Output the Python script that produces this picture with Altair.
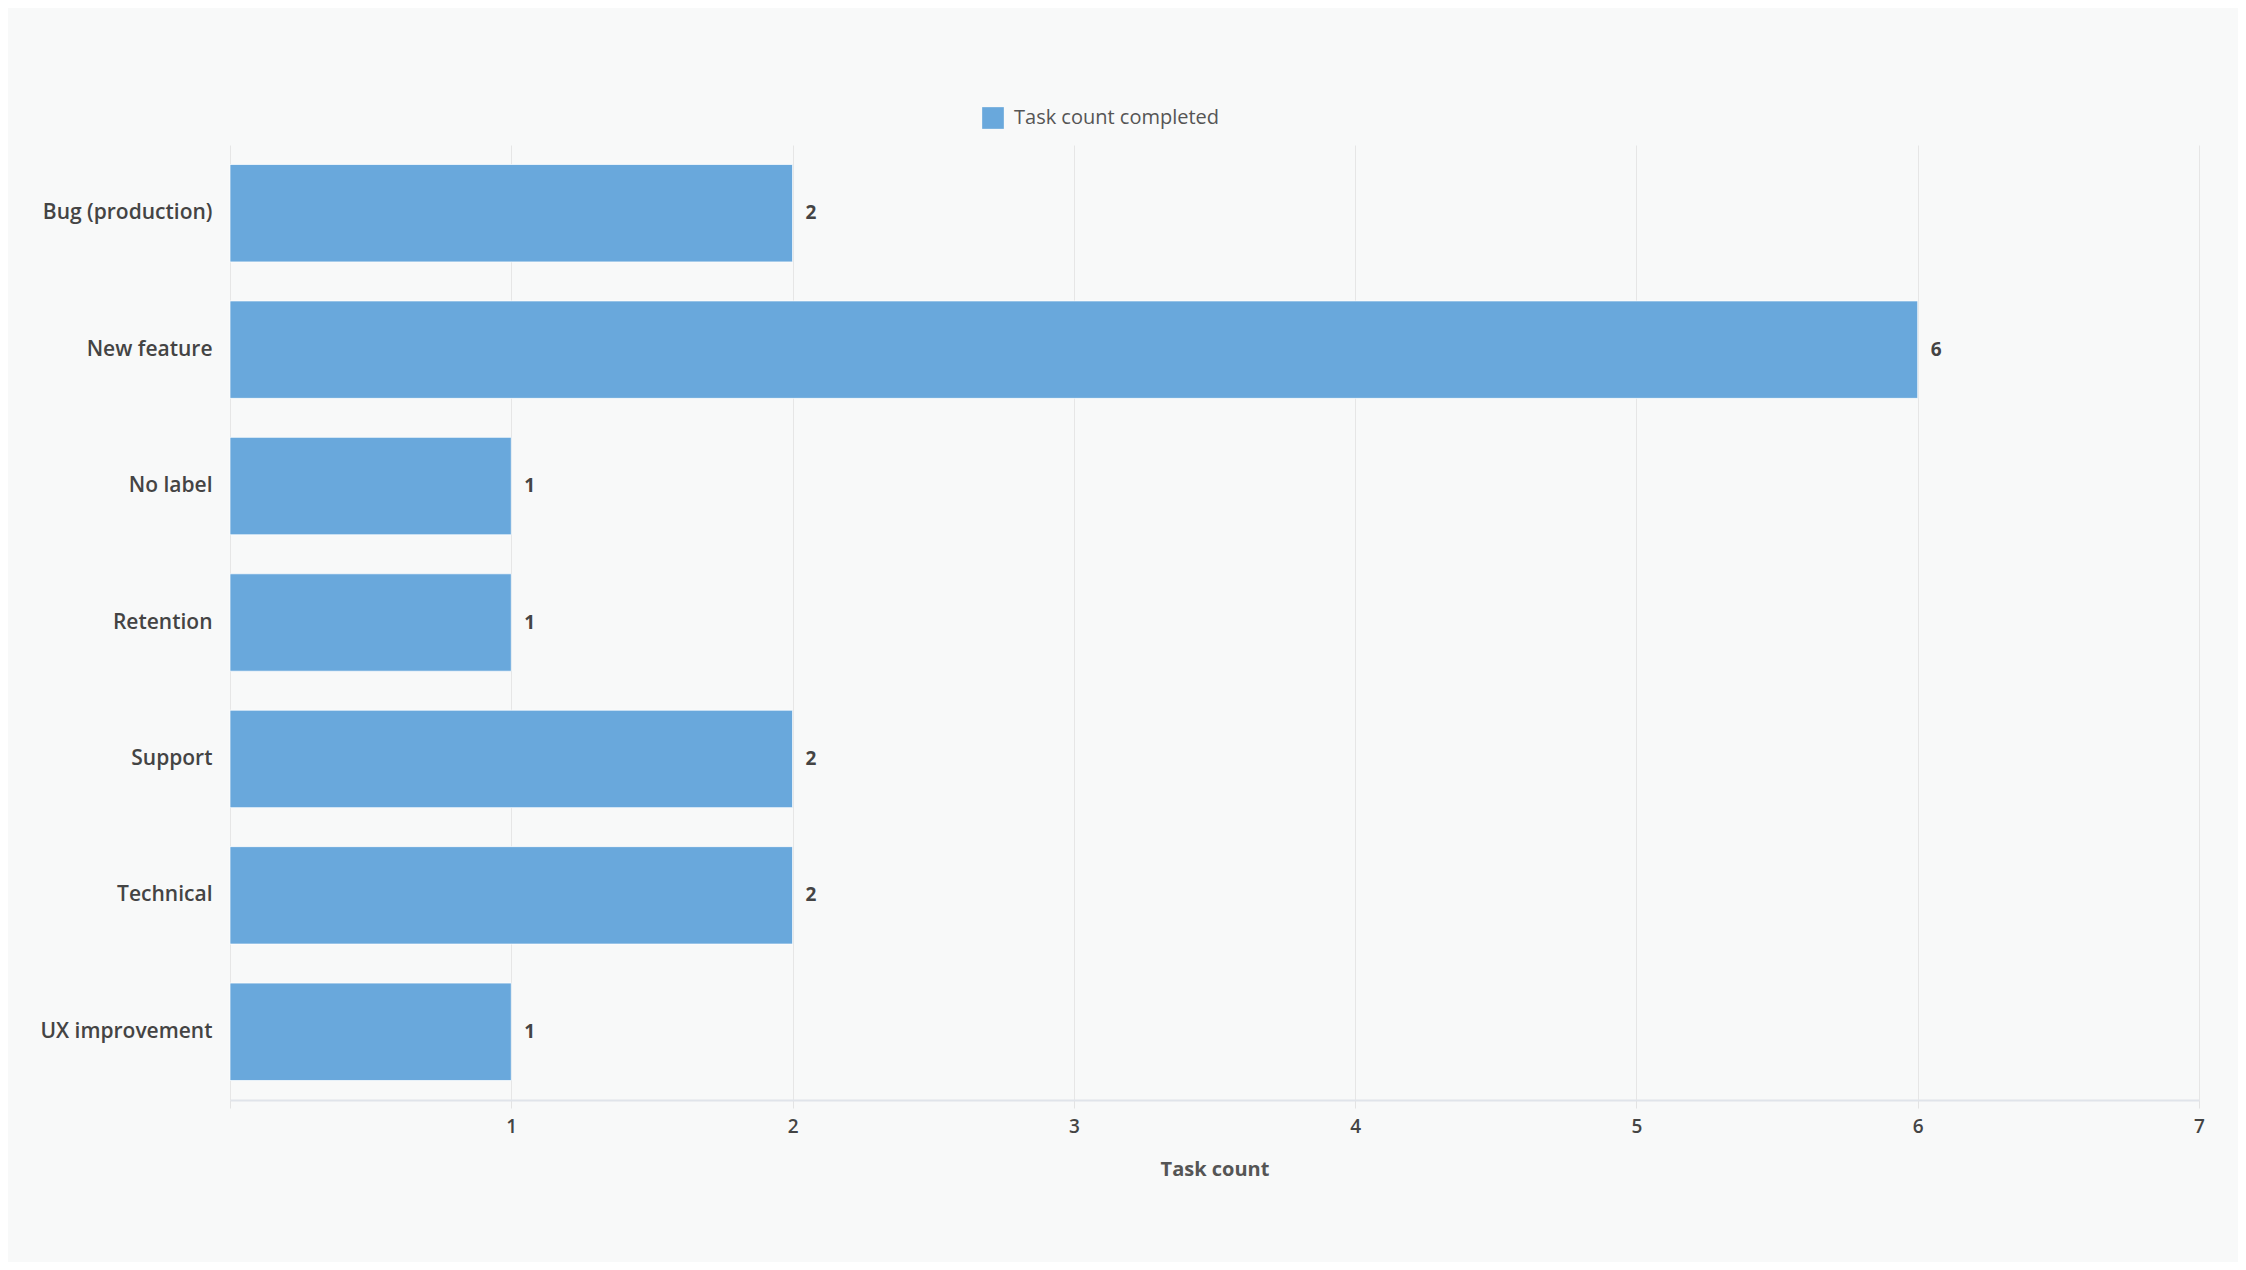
import altair as alt
import pandas as pd

categories = ["Bug (production)", "New feature", "No label", "Retention", "Support", "Technical", "UX improvement"]
values = [2, 6, 1, 1, 2, 2, 1]
series_name = "Task count completed"
x_ticks = [0, 1, 2, 3, 4, 5, 6, 7]
x_title = "Task count"

df = pd.DataFrame({"category": categories, "value": values, "series": [series_name] * len(categories)})

FONT = "Open Sans"
TEXT = "#444444"

y_enc = alt.Y(
    "category:N",
    sort=categories,
    scale=alt.Scale(paddingInner=0.286, paddingOuter=0.143),
    axis=alt.Axis(
        title=None, ticks=False, domain=False, grid=False,
        labelFont=FONT, labelFontSize=21, labelFontWeight=600, labelColor=TEXT,
        labelPadding=18, labelLimit=0,
    ),
)
x_enc = alt.X(
    "value:Q",
    scale=alt.Scale(domain=[0, 7], nice=False),
    axis=alt.Axis(
        values=x_ticks, title=x_title, format="d", labelFlush=False,
        labelExpr="datum.value == 0 ? '' : datum.label",
        labelFont=FONT, labelFontSize=19, labelFontWeight=600, labelColor=TEXT,
        labelPadding=9, tickSize=8, tickColor="#e3e3e3", domainColor="#e0e4ea", domainWidth=2,
        gridColor="#e6e6e6", gridWidth=1,
        titleFont=FONT, titleFontSize=20, titleFontWeight="bold", titleColor="#555555",
        titlePadding=23,
    ),
)

bars = alt.Chart(df).mark_bar(stroke="white", strokeWidth=1, strokeOpacity=0.7).encode(
    y=y_enc,
    x=x_enc,
    color=alt.Color(
        "series:N",
        scale=alt.Scale(range=["#69a8dc"]),
        legend=alt.Legend(
            title=None, orient="none", legendX=752, legendY=-38, direction="horizontal",
            symbolType="square", symbolSize=470, symbolStrokeWidth=0, padding=0,
            labelFont=FONT, labelFontSize=20, labelColor="#555555", labelOffset=10,
            labelLimit=0,
        ),
    ),
)

labels = alt.Chart(df).mark_text(
    align="left", baseline="middle", dx=13, font=FONT, fontSize=19, fontWeight="bold", color=TEXT
).encode(
    y=alt.Y("category:N", sort=categories),
    x=alt.X("value:Q"),
    text=alt.Text("value:Q"),
)

chart = (bars + labels).properties(
    width=1969,
    height=955,
    padding={"left": 222, "top": 137, "right": 39, "bottom": 162},
    autosize=alt.AutoSizeParams(type="none"),
    background="#f8f9f9",
).configure_view(stroke=None)

chart.save("out.html", embed_options={"renderer": "svg", "actions": False})
